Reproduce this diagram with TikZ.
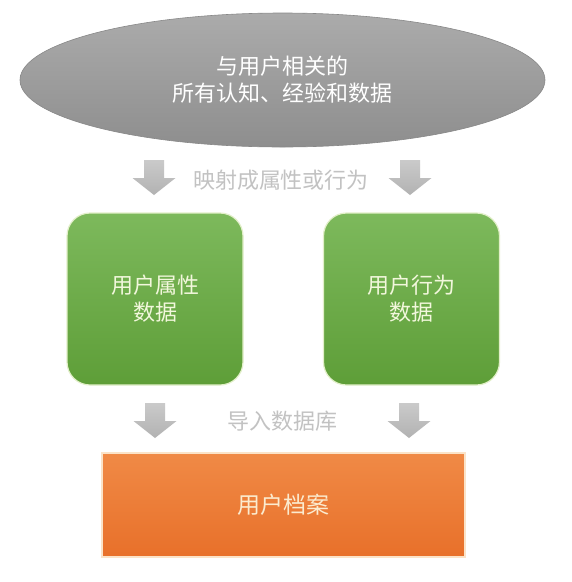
\documentclass[tikz,border=0pt]{standalone}
\usepackage{fontspec}
\newfontfamily\cjk{Noto Sans CJK SC}
\usetikzlibrary{shapes.geometric}
\definecolor{elltop}{HTML}{ABABAB}
\definecolor{ellbot}{HTML}{8E8E8E}
\definecolor{ellline}{HTML}{888888}
\definecolor{grntop}{HTML}{7DB95C}
\definecolor{grnbot}{HTML}{5E9E38}
\definecolor{grnline}{HTML}{E2EFC9}
\definecolor{grntext}{HTML}{F2F7DC}
\definecolor{orgtop}{HTML}{F08A46}
\definecolor{orgbot}{HTML}{E8702A}
\definecolor{orgline}{HTML}{FBE3C8}
\definecolor{orgtext}{HTML}{FBEBCF}
\definecolor{arrtop}{HTML}{CACACA}
\definecolor{arrbot}{HTML}{B2B2B2}
\definecolor{labelgray}{HTML}{C2C2C2}
\tikzset{
  cloud/.style={ellipse, minimum width=525pt, minimum height=134pt, inner sep=0pt,
    top color=elltop, bottom color=ellbot, draw=ellline, line width=0.6pt,
    text=white, align=center, font=\cjk\fontsize{22}{27}\selectfont},
  greenbox/.style={rectangle, rounded corners=23pt, minimum width=176pt, minimum height=172pt,
    inner sep=0pt, top color=grntop, bottom color=grnbot, draw=grnline, line width=1.2pt,
    text=grntext, align=center, font=\cjk\fontsize{22}{27}\selectfont},
  orangebox/.style={rectangle, minimum width=363pt, minimum height=104pt, inner sep=0pt,
    top color=orgtop, bottom color=orgbot, draw=orgline, line width=1.2pt,
    text=orgtext, align=center, font=\cjk\fontsize{23}{28}\selectfont},
  steplabel/.style={text=labelgray, inner sep=0pt, font=\cjk\fontsize{22}{27}\selectfont},
  downarrow/.pic={\shade[top color=arrtop, bottom color=arrbot]
    (-10,0) -- (10,0) -- (10,18) -- (21.5,18) -- (0,35) -- (-21.5,18) -- (-10,18) -- cycle;}
}
\begin{document}
\begin{tikzpicture}[x=1pt, y=-1pt]
\useasboundingbox[fill=white] (0,0) rectangle (572,582);
\node[cloud] (src) at (282.5,80) {与用户相关的\\所有认知、经验和数据};
\pic (a1) at (154,160) {downarrow};
\pic (a2) at (410,160) {downarrow};
\node[steplabel] (map) at (281,180) {映射成属性或行为};
\node[greenbox] (attr) at (155,299) {用户属性\\数据};
\node[greenbox] (beh) at (411.5,299) {用户行为\\数据};
\pic (a3) at (155,403) {downarrow};
\pic (a4) at (409,403) {downarrow};
\node[steplabel] (imp) at (282,421) {导入数据库};
\node[orangebox] (prof) at (283.5,505) {用户档案};
\end{tikzpicture}
\end{document}
